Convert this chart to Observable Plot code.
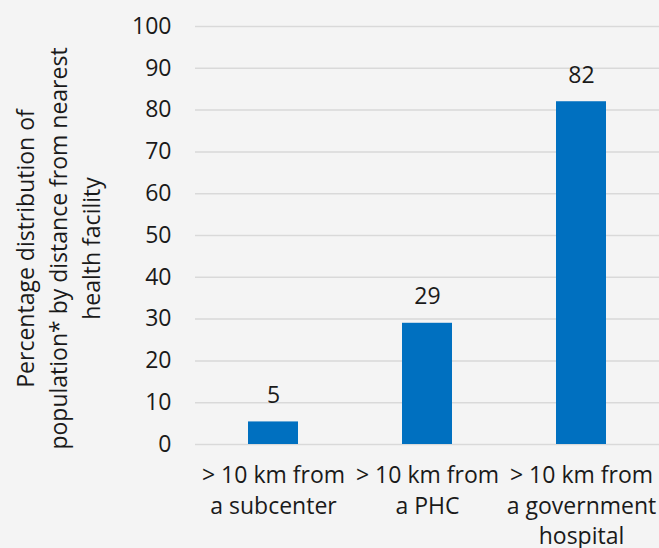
<!DOCTYPE html>
<html>
<head>
<meta charset="utf-8">
<script src="https://cdn.jsdelivr.net/npm/d3@7"></script>
<script src="https://cdn.jsdelivr.net/npm/@observablehq/plot@0.6"></script>
<style>
  html, body { margin: 0; padding: 0; background: #f4f4f4; }
  #chart svg { display: block; }
</style>
</head>
<body>
<div id="chart"></div>
<script>
const categories = ["> 10 km from\na subcenter", "> 10 km from\na PHC", "> 10 km from\na government\nhospital"];
const values = [5.4, 29, 82];
const valueLabels = ["5", "29", "82"];
const yTicks = [0, 10, 20, 30, 40, 50, 60, 70, 80, 90, 100];
const yTitle = "Percentage distribution of\npopulation* by distance from nearest\nhealth facility";

const data = categories.map((c, i) => ({cat: c, value: values[i], label: valueLabels[i]}));

const chart = Plot.plot({
  width: 659,
  height: 548,
  marginLeft: 195,
  marginRight: 0,
  marginTop: 26,
  marginBottom: 104,
  style: {background: "#f4f4f4", fontFamily: "'Open Sans', sans-serif", fontSize: "23px", color: "#1a1a1a"},
  x: {domain: categories, padding: 0, axis: null},
  y: {domain: [0, 100], axis: null},
  marks: [
    Plot.gridY(yTicks, {stroke: "#d9d9d9", strokeOpacity: 1, strokeWidth: 1.5}),
    Plot.axisY(yTicks, {tickSize: 0, tickPadding: 24, fontSize: 23, label: null, tickFormat: d3.format("d")}),
    Plot.barY(data, {x: "cat", y: "value", fill: "#0070C0", insetLeft: 52, insetRight: 52}),
    Plot.text(data, {x: "cat", y: "value", text: "label", lineAnchor: "bottom", dy: -19, fontSize: 23, fill: "#1a1a1a"}),
    Plot.text(data, {x: "cat", y: 0, text: "cat", lineAnchor: "top", dy: 17, lineHeight: 1.33, fontSize: 23, fill: "#1a1a1a"}),
    Plot.text([yTitle], {frameAnchor: "left", textAnchor: "middle", dx: -139, dy: 13, rotate: -90, lineAnchor: "middle", lineHeight: 1.43, fontSize: 23, fill: "#1a1a1a"})
  ]
});
document.getElementById("chart").append(chart);
</script>
</body>
</html>
